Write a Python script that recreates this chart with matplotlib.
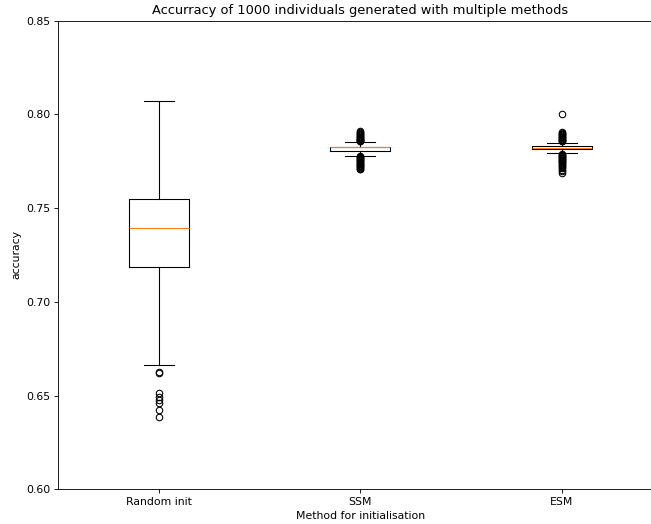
import matplotlib
matplotlib.use("Agg")
import matplotlib.pyplot as plt

# Summary statistics for each initialisation method
methods = ["Random init", "SSM", "ESM"]
medians = [0.7394, 0.7825, 0.7823]
q1 = [0.7188, 0.7805, 0.7816]
q3 = [0.7547, 0.7828, 0.7829]
whisker_low = [0.6665, 0.7780, 0.7796]
whisker_high = [0.8072, 0.7851, 0.7849]

fliers_random = [0.6625, 0.6619, 0.6512, 0.6494, 0.6479, 0.6463, 0.6424, 0.6387]
fliers_ssm = [
    0.7856, 0.7859, 0.7861, 0.7865, 0.7868, 0.7871, 0.7875, 0.7879, 0.7882,
    0.7886, 0.7889, 0.7893, 0.7898, 0.7902, 0.7907, 0.7912,
    0.7777, 0.7774, 0.7771, 0.7767, 0.7763, 0.7760, 0.7756, 0.7753, 0.7749,
    0.7745, 0.7741, 0.7738, 0.7734, 0.7731, 0.7727, 0.7723, 0.7719, 0.7715,
    0.7711, 0.7707,
]
fliers_esm = [
    0.8000,
    0.7856, 0.7859, 0.7863, 0.7866, 0.7870, 0.7874, 0.7877, 0.7881, 0.7885,
    0.7889, 0.7893, 0.7897, 0.7902, 0.7908,
    0.7789, 0.7785, 0.7781, 0.7777, 0.7773, 0.7769, 0.7765, 0.7761, 0.7757,
    0.7753, 0.7749, 0.7745, 0.7741, 0.7737, 0.7732, 0.7727, 0.7721, 0.7714,
    0.7706, 0.7698, 0.7690,
]
fliers = [fliers_random, fliers_ssm, fliers_esm]

stats = [
    dict(label=methods[i], med=medians[i], q1=q1[i], q3=q3[i],
         whislo=whisker_low[i], whishi=whisker_high[i], fliers=fliers[i])
    for i in range(len(methods))
]

DPI = 78
fig = plt.figure(figsize=(651 / DPI, 524 / DPI), dpi=DPI)
ax = fig.add_axes([58 / 651, 34.7 / 524, 604.5 / 651, 468.6 / 524])

ax.bxp(stats, positions=[1, 2, 3], widths=0.3)

ax.set_xlim(0.5, 3.5)
ax.set_ylim(0.60, 0.85)
ax.set_yticks([0.60, 0.65, 0.70, 0.75, 0.80, 0.85])
ax.set_yticklabels([f"{v:.2f}" for v in ax.get_yticks()])

ax.set_title("Accurracy of 1000 individuals generated with multiple methods")
ax.set_xlabel("Method for initialisation")
ax.set_ylabel("accuracy")

fig.savefig("out.png", dpi=DPI)
